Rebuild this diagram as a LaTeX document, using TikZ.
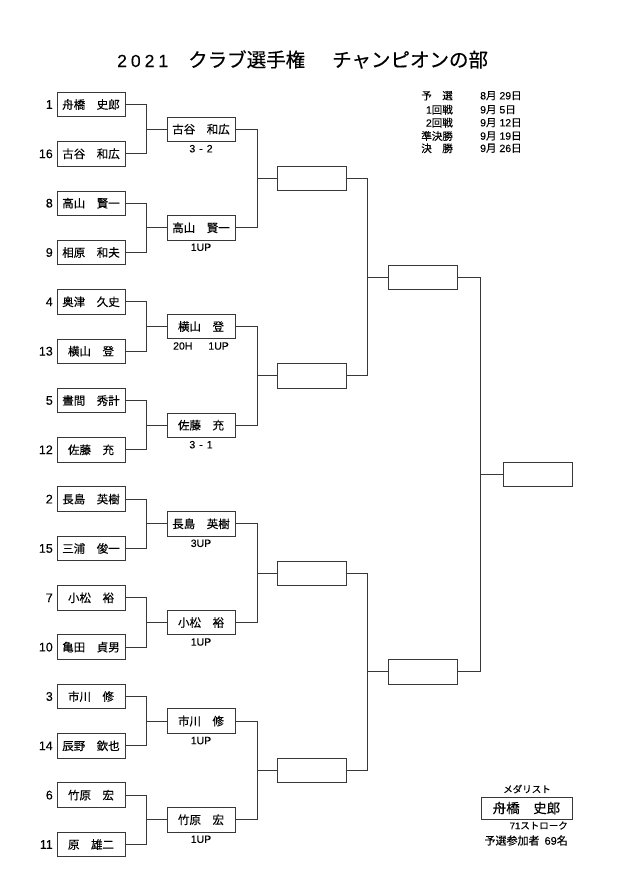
\documentclass[tikz,border=0pt]{standalone}
\usepackage{fontspec}
\setmainfont[FakeBold=0.2]{Liberation Sans}
\newfontfamily\jp[FakeBold=0.3]{Noto Sans CJK JP}
\begin{document}
\begin{tikzpicture}[x=1pt,y=-1pt,
  ln/.style={line width=0.8pt,draw=black!78},
  pbox/.style={ln, rectangle, minimum width=68pt, minimum height=24.5pt, inner sep=0pt, font=\jp\fontsize{11.5}{12}\selectfont},
  seed/.style={anchor=east, inner sep=0pt, font=\fontsize{12.5}{13}\selectfont},
  score/.style={inner sep=0pt, font=\fontsize{10.5}{11}\selectfont},
  sched/.style={inner sep=0pt, font=\fontsize{10.5}{11}\selectfont},
  ttl/.style={inner sep=0pt, anchor=base west},
  small/.style={inner sep=0pt, font=\fontsize{9.5}{10}\selectfont},
]
\useasboundingbox[fill=white] (0,0) rectangle (630,891);

% title
\node[ttl, font=\fontsize{17.5}{18}\selectfont] (t1) at (117,67) {2\hspace{4pt}0\hspace{4pt}2\hspace{4pt}1};
\node[ttl, font=\jp\fontsize{19.5}{20}\selectfont] (t2) at (188,67) {クラブ選手権};
\node[ttl, font=\jp\fontsize{19.5}{20}\selectfont] (t3) at (332,67) {チャンピオンの部};

% schedule
\node[sched, anchor=east] (d1l) at (453,95.7) {\jp 予　選};
\node[sched, anchor=east] (d2l) at (453,109.7) {1\jp 回戦};
\node[sched, anchor=east] (d3l) at (453,122.7) {2\jp 回戦};
\node[sched, anchor=east] (d4l) at (453,136) {\jp 準決勝};
\node[sched, anchor=east] (d5l) at (453,148.3) {\jp 決　勝};
\node[sched, anchor=west] (d1r) at (480,95.7) {8{\jp 月} 29{\jp 日}};
\node[sched, anchor=west] (d2r) at (480,109.7) {9{\jp 月} 5{\jp 日}};
\node[sched, anchor=west] (d3r) at (480,122.7) {9{\jp 月} 12{\jp 日}};
\node[sched, anchor=west] (d4r) at (480,136) {9{\jp 月} 19{\jp 日}};
\node[sched, anchor=west] (d5r) at (480,148.3) {9{\jp 月} 26{\jp 日}};

% round 1
\node[pbox] (a1)  at (91,104.5) {舟橋　史郎};
\node[pbox] (a2)  at (91,153.8) {古谷　和広};
\node[pbox] (a3)  at (91,203.2) {高山　賢一};
\node[pbox] (a4)  at (91,252.5) {相原　和夫};
\node[pbox] (a5)  at (91,301.8) {奥津　久史};
\node[pbox] (a6)  at (91,351.2) {横山　登};
\node[pbox] (a7)  at (91,400.5) {晝間　秀計};
\node[pbox] (a8)  at (91,449.8) {佐藤　充};
\node[pbox] (a9)  at (91,499.1) {長島　英樹};
\node[pbox] (a10) at (91,548.5) {三浦　俊一};
\node[pbox] (a11) at (91,597.8) {小松　裕};
\node[pbox] (a12) at (91,647.1) {亀田　貞男};
\node[pbox] (a13) at (91,696.5) {市川　修};
\node[pbox] (a14) at (91,745.8) {辰野　欽也};
\node[pbox] (a15) at (91,795.1) {竹原　宏};
\node[pbox] (a16) at (91,844.5) {原　雄二};

% seeds
\node[seed] (n1)  at (53,104.5) {1};
\node[seed] (n2)  at (53,153.8) {16};
\node[seed] (n3)  at (53,203.2) {8};
\node[seed] (n4)  at (53,252.5) {9};
\node[seed] (n5)  at (53,301.8) {4};
\node[seed] (n6)  at (53,351.2) {13};
\node[seed] (n7)  at (53,400.5) {5};
\node[seed] (n8)  at (53,449.8) {12};
\node[seed] (n9)  at (53,499.1) {2};
\node[seed] (n10) at (53,548.5) {15};
\node[seed] (n11) at (53,597.8) {7};
\node[seed] (n12) at (53,647.1) {10};
\node[seed] (n13) at (53,696.5) {3};
\node[seed] (n14) at (53,745.8) {14};
\node[seed] (n15) at (53,795.1) {6};
\node[seed] (n16) at (53,844.5) {11};

% round 2
\node[pbox] (b1) at (201,129.2) {古谷　和広};
\node[pbox] (b2) at (201,227.8) {高山　賢一};
\node[pbox] (b3) at (201,326.5) {横山　登};
\node[pbox] (b4) at (201,425.2) {佐藤　充};
\node[pbox] (b5) at (201,523.8) {長島　英樹};
\node[pbox] (b6) at (201,622.5) {小松　裕};
\node[pbox] (b7) at (201,721.1) {市川　修};
\node[pbox] (b8) at (201,819.8) {竹原　宏};

% scores
\node[score] (s1) at (201,148.7) {3\hspace{4pt}-\hspace{4pt}2};
\node[score] (s2) at (201,247.3) {1UP};
\node[score] (s3) at (201,346) {20H\hspace{16pt}1UP};
\node[score] (s4) at (201,444.7) {3\hspace{4pt}-\hspace{4pt}1};
\node[score] (s5) at (201,543.3) {3UP};
\node[score] (s6) at (201,642) {1UP};
\node[score] (s7) at (201,740.6) {1UP};
\node[score] (s8) at (201,839.3) {1UP};

% round 3
\node[pbox, minimum width=69pt] (c1) at (311.5,178.5) {};
\node[pbox, minimum width=69pt] (c2) at (311.5,375.8) {};
\node[pbox, minimum width=69pt] (c3) at (311.5,573.2) {};
\node[pbox, minimum width=69pt] (c4) at (311.5,770.5) {};

% round 4
\node[pbox, minimum width=69pt] (e1) at (422.5,277.2) {};
\node[pbox, minimum width=69pt] (e2) at (422.5,671.8) {};

% final
\node[pbox, minimum width=69pt] (f) at (537.5,474.5) {};

% connectors
\foreach \p/\q/\w/\u/\v in {a1/a2/b1/21/21, a3/a4/b2/21/21, a5/a6/b3/21/21, a7/a8/b4/21/21,
  a9/a10/b5/21/21, a11/a12/b6/21/21, a13/a14/b7/21/21, a15/a16/b8/21/21,
  b1/b2/c1/22/20, b3/b4/c2/22/20, b5/b6/c3/22/20, b7/b8/c4/22/20,
  c1/c2/e1/21/21, c3/c4/e2/21/21,
  e1/e2/f/23/23} {
  \draw[ln] (\p.east) -- ++(\u,0) |- (\q.east);
  \draw[ln] (\w.west) -- ++(-\v,0);
}

% medalist
\node[small, font=\jp\fontsize{9.5}{10}\selectfont] (mt) at (527,789) {メダリスト};
\node[ln, rectangle, minimum width=91pt, minimum height=22pt, inner sep=0pt, font=\jp\fontsize{13.5}{14}\selectfont] (mb) at (526.5,808) {舟橋　史郎};
\node[small, anchor=east] (ms) at (568,825.5) {71{\jp ストローク}};
\node[small, anchor=east, font=\fontsize{11}{12}\selectfont] (mp) at (568,840.5) {{\jp 予選参加者}\hspace{5pt}69{\jp 名}};
\end{tikzpicture}
\end{document}
